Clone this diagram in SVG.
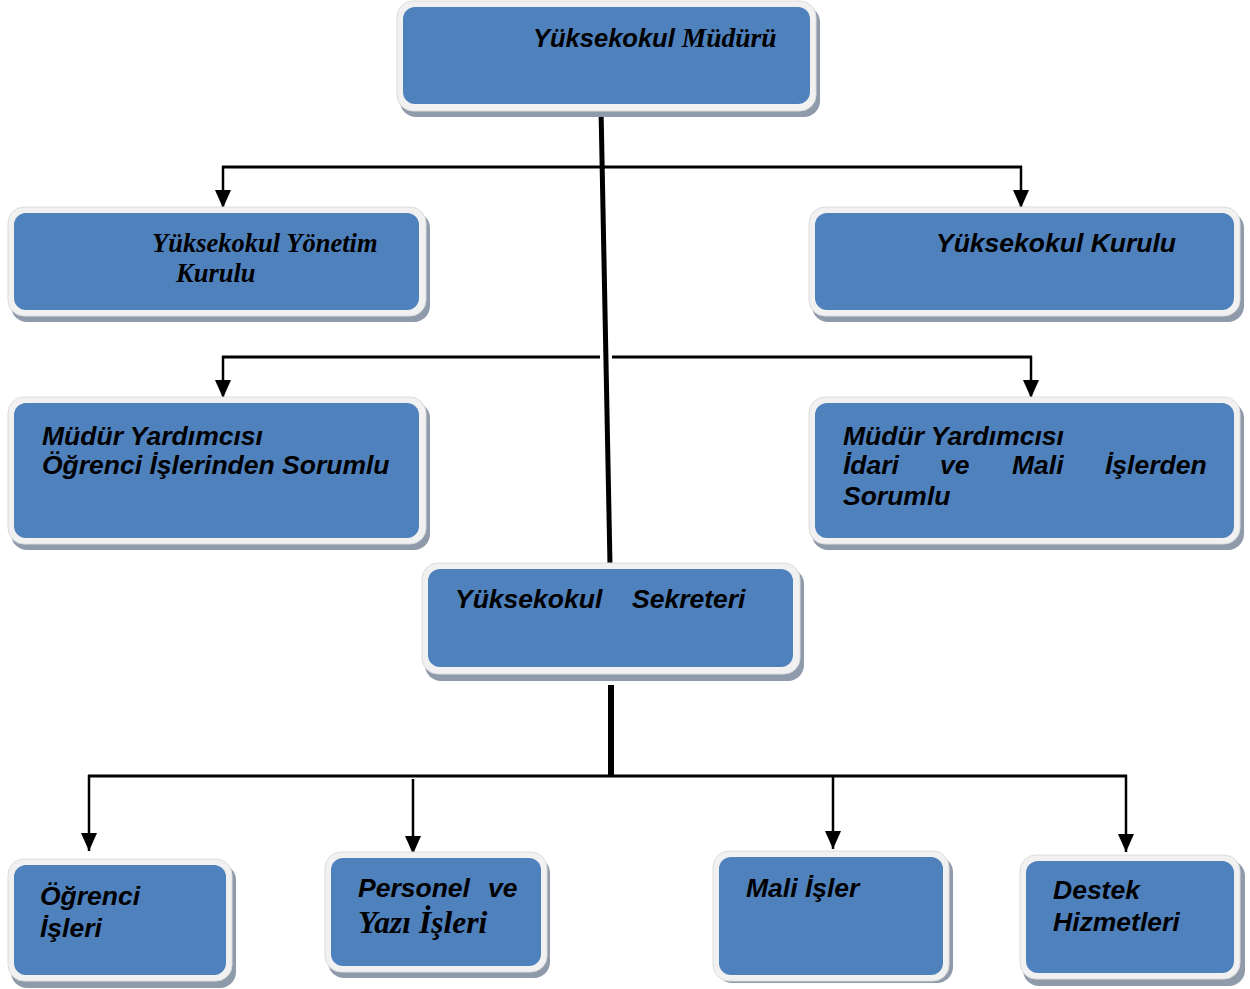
<svg xmlns="http://www.w3.org/2000/svg" width="1250" height="989" viewBox="0 0 1250 989">
<style>
.sh{fill:#8f9bab}
.fr{fill:#f1f1f1;stroke:#dcdcdc;stroke-width:1}
.in{fill:#4f81bd}
.t{font-family:"Liberation Sans",Arial,sans-serif;font-weight:bold;font-style:italic;font-size:26.5px;fill:#000}
.s{font-family:"Liberation Serif","Times New Roman",serif;font-weight:bold;font-style:italic;font-size:26.5px;fill:#000}
.c{stroke:#000;fill:none;stroke-width:3}
.a{stroke:#000;fill:none;stroke-width:2.5;marker-end:url(#ah)}
</style>
<defs>
<marker id="ah" markerUnits="userSpaceOnUse" markerWidth="18" markerHeight="16" viewBox="0 0 18 16" refX="18" refY="8" orient="auto">
<path d="M0,0 L18,8 L0,16 z" fill="#000"/>
</marker>
</defs>
<rect width="1250" height="989" fill="#fff"/>

<g id="connectors">
<path d="M601,108 L610,565" stroke="#000" stroke-width="5" fill="none"/>
<path class="c" d="M222,167 H1022"/>
<path class="a" d="M223,166 V208"/>
<path class="a" d="M1021,166 V208"/>
<path class="c" d="M222,357 H600"/>
<path class="c" d="M612,357 H1032"/>
<path class="a" d="M223,356 V398"/>
<path class="a" d="M1031,356 V398"/>
<path d="M611,685 V776" stroke="#000" stroke-width="6" fill="none"/>
<path class="c" d="M88,776 H1127"/>
<path class="a" d="M89,775 V851"/>
<path class="a" d="M413,779 V854"/>
<path class="a" d="M833,775 V849"/>
<path class="a" d="M1126,775 V852"/>
</g>

<g id="n-mudur">
<rect class="sh" x="400" y="6" width="420" height="111" rx="16"/>
<rect class="fr" x="397" y="1" width="419" height="110" rx="16"/>
<rect class="in" x="403" y="7" width="407" height="97" rx="12"/>
<text x="533" y="47"><tspan class="t" style="font-size:25.5px">Yüksekokul </tspan><tspan class="s" style="font-size:27.5px">Müdürü</tspan></text>
</g>

<g id="n-yonetim">
<rect class="sh" x="11" y="212" width="419" height="110" rx="16"/>
<rect class="fr" x="8" y="207" width="418" height="109" rx="16"/>
<rect class="in" x="14" y="213" width="405" height="97" rx="12"/>
<text class="s" x="152" y="252">Yüksekokul Yönetim</text>
<text class="s" x="176" y="282">Kurulu</text>
</g>

<g id="n-kurulu">
<rect class="sh" x="812" y="212" width="432" height="110" rx="16"/>
<rect class="fr" x="809" y="207" width="431" height="109" rx="16"/>
<rect class="in" x="815" y="213" width="419" height="97" rx="12"/>
<text class="t" x="936" y="252">Yüksekokul Kurulu</text>
</g>

<g id="n-myrd-ogrenci">
<rect class="sh" x="11" y="402" width="419" height="148" rx="16"/>
<rect class="fr" x="8" y="397" width="418" height="147" rx="16"/>
<rect class="in" x="14" y="403" width="405" height="135" rx="12"/>
<text class="t" x="42" y="445">Müdür Yardımcısı</text>
<text class="t" x="42" y="474">Öğrenci İşlerinden Sorumlu</text>
</g>

<g id="n-myrd-idari">
<rect class="sh" x="812" y="402" width="432" height="148" rx="16"/>
<rect class="fr" x="809" y="397" width="431" height="147" rx="16"/>
<rect class="in" x="815" y="403" width="419" height="135" rx="12"/>
<text class="t" x="843" y="445">Müdür Yardımcısı</text>
<text class="t" x="843" y="474">İdari</text>
<text class="t" x="940" y="474">ve</text>
<text class="t" x="1012" y="474">Mali</text>
<text class="t" x="1105" y="474">İşlerden</text>
<text class="t" x="843" y="505">Sorumlu</text>
</g>

<g id="n-sekreter">
<rect class="sh" x="425" y="568" width="379" height="113" rx="16"/>
<rect class="fr" x="422" y="563" width="378" height="111" rx="16"/>
<rect class="in" x="428" y="569" width="365" height="98" rx="12"/>
<text class="t" x="455" y="608">Yüksekokul</text>
<text class="t" x="632" y="608">Sekreteri</text>
</g>

<g id="n-ogrenci">
<rect class="sh" x="11" y="864" width="225" height="124" rx="16"/>
<rect class="fr" x="8" y="859" width="224" height="122" rx="16"/>
<rect class="in" x="14" y="865" width="212" height="110" rx="12"/>
<text class="t" x="40" y="905">Öğrenci</text>
<text class="t" x="40" y="937">İşleri</text>
</g>

<g id="n-personel">
<rect class="sh" x="328" y="857" width="222" height="121" rx="16"/>
<rect class="fr" x="325" y="852" width="222" height="120" rx="16"/>
<rect class="in" x="331" y="858" width="210" height="108" rx="12"/>
<text class="t" x="358" y="897">Personel</text>
<text class="t" x="488" y="897">ve</text>
<text class="s" x="358" y="933" style="font-size:31.5px">Yazı İşleri</text>
</g>

<g id="n-mali">
<rect class="sh" x="716" y="856" width="237" height="127" rx="16"/>
<rect class="fr" x="713" y="851" width="236" height="130" rx="16"/>
<rect class="in" x="719" y="857" width="224" height="118" rx="12"/>
<text class="t" x="746" y="897">Mali İşler</text>
</g>

<g id="n-destek">
<rect class="sh" x="1023" y="860" width="222" height="126" rx="16"/>
<rect class="fr" x="1020" y="855" width="220" height="124" rx="16"/>
<rect class="in" x="1026" y="861" width="208" height="112" rx="12"/>
<text class="t" x="1053" y="899">Destek</text>
<text class="t" x="1053" y="931">Hizmetleri</text>
</g>
</svg>
